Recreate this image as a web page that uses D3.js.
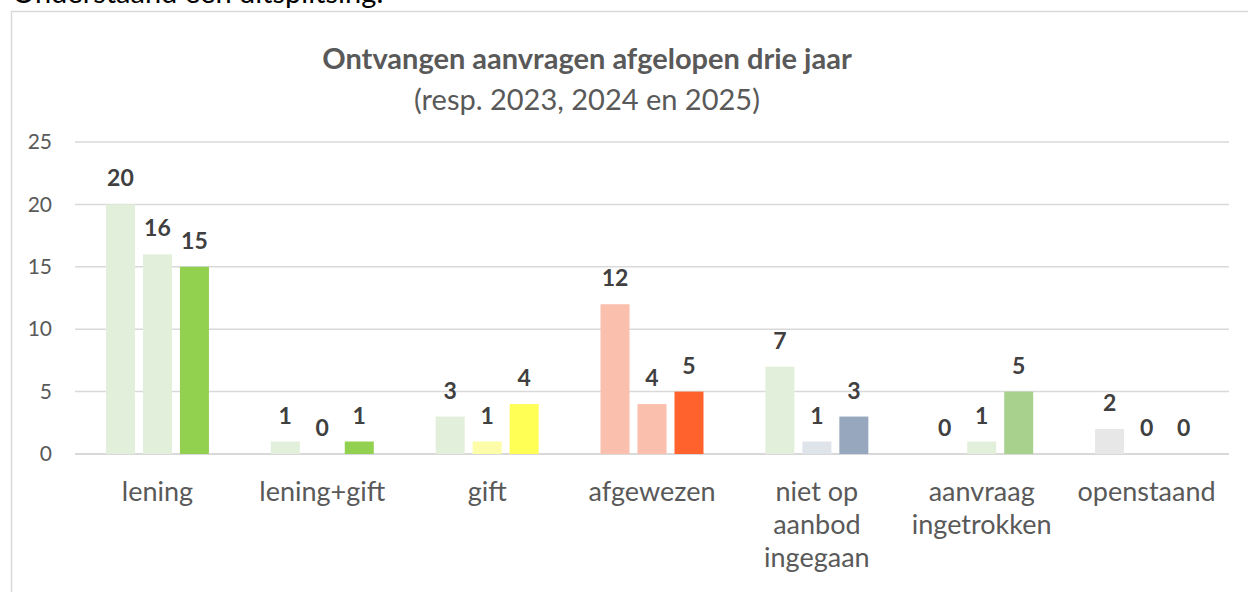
<!DOCTYPE html>
<html>
<head>
<meta charset="utf-8">
<script src="https://cdn.jsdelivr.net/npm/d3@7"></script>
<style>
  html, body { margin: 0; padding: 0; background: #fff; }
  svg { display: block; font-family: Lato, "Open Sans", sans-serif; }
</style>
</head>
<body>
<div id="chart"></div>
<script>
// data
const categories = ['lening', 'lening+gift', 'gift', 'afgewezen', 'niet op aanbod ingegaan', 'aanvraag ingetrokken', 'openstaand'];
const categoryLines = [['lening'], ['lening+gift'], ['gift'], ['afgewezen'], ['niet op', 'aanbod', 'ingegaan'], ['aanvraag', 'ingetrokken'], ['openstaand']];
const series = ['2023', '2024', '2025'];
const values2023 = [20, 1, 3, 12, 7, 0, 2];
const values2024 = [16, 0, 1, 4, 1, 1, 0];
const values2025 = [15, 1, 4, 5, 3, 5, 0];
const yTicks = [0, 5, 10, 15, 20, 25];

// each bar has its own fill in the original
const colors2023 = ['#e2efda', '#e2efda', '#e2efda', '#fbbfad', '#e2efda', '#e2efda', '#e7e7e7'];
const colors2024 = ['#e2efda', '#e2efda', '#fdfca8', '#fbbfad', '#dfe3ea', '#e2efda', '#e7e7e7'];
const colors2025 = ['#92d050', '#92d050', '#ffff55', '#ff622c', '#97a7be', '#a9d18e', '#e7e7e7'];

const W = 1248, H = 592;
const PLOT = { left: 75, right: 1229, top: 142, bottom: 454 };
const GRID = '#d9d9d9';
const TEXT = '#595959';

const valuesBySeries = [values2023, values2024, values2025];
const colorsBySeries = [colors2023, colors2024, colors2025];

const svg = d3.select('#chart').append('svg')
  .attr('width', W)
  .attr('height', H);

// text above the chart, cut off at the top edge
svg.append('text')
  .attr('x', 12)
  .attr('y', 3)
  .attr('fill', '#000')
  .style('font-size', '29px')
  .text('Onderstaand een uitsplitsing:');

// chart frame (only the left and top border are in view)
svg.append('path')
  .attr('d', `M11.5,${H} V11.5 H${W}`)
  .attr('fill', 'none')
  .attr('stroke', GRID)
  .attr('stroke-width', 1.5);

svg.append('text')
  .attr('x', 587)
  .attr('y', 69)
  .attr('text-anchor', 'middle')
  .attr('fill', TEXT)
  .style('font-size', '29px')
  .style('font-weight', 'bold')
  .text('Ontvangen aanvragen afgelopen drie jaar');

svg.append('text')
  .attr('x', 587)
  .attr('y', 110)
  .attr('text-anchor', 'middle')
  .attr('fill', TEXT)
  .style('font-size', '29px')
  .text('(resp. 2023, 2024 en 2025)');

const y = d3.scaleLinear().domain([0, 25]).range([PLOT.bottom, PLOT.top]);
const x0 = d3.scaleBand().domain(categories).range([PLOT.left, PLOT.right]);
const x1 = d3.scaleBand().domain(series).range([0, x0.bandwidth()])
  .paddingInner(0.216).paddingOuter(0.836);

// gridlines
svg.append('g')
  .selectAll('line')
  .data(yTicks)
  .enter().append('line')
  .attr('x1', PLOT.left)
  .attr('x2', PLOT.right)
  .attr('y1', d => y(d))
  .attr('y2', d => y(d))
  .attr('stroke', GRID)
  .attr('stroke-width', d => d === 0 ? 2 : 1.5);

// y axis labels
const yAxis = svg.append('g')
  .attr('transform', `translate(${PLOT.left},0)`)
  .call(d3.axisLeft(y).tickValues(yTicks).tickSize(0).tickPadding(23));
yAxis.select('.domain').remove();
yAxis.selectAll('text')
  .attr('fill', TEXT)
  .style('font-family', 'Lato, sans-serif')
  .style('font-size', '21px');

// bars + value labels
const bars = [];
categories.forEach((c, i) => {
  series.forEach((s, j) => {
    bars.push({ cat: c, ser: s, value: valuesBySeries[j][i], color: colorsBySeries[j][i] });
  });
});

const g = svg.append('g');
g.selectAll('rect')
  .data(bars.filter(d => d.value > 0))
  .enter().append('rect')
  .attr('x', d => x0(d.cat) + x1(d.ser))
  .attr('y', d => y(d.value))
  .attr('width', x1.bandwidth())
  .attr('height', d => y(0) - y(d.value))
  .attr('fill', d => d.color);

g.selectAll('.val')
  .data(bars)
  .enter().append('text')
  .attr('class', 'val')
  .attr('x', d => x0(d.cat) + x1(d.ser) + x1.bandwidth() / 2)
  .attr('y', d => y(d.value) - 18)
  .attr('text-anchor', 'middle')
  .attr('fill', '#404040')
  .style('font-size', '23px')
  .style('font-weight', 'bold')
  .text(d => d.value);

// category labels
const xl = svg.append('g');
categories.forEach((c, i) => {
  const t = xl.append('text')
    .attr('x', x0(c) + x0.bandwidth() / 2)
    .attr('y', 501)
    .attr('text-anchor', 'middle')
    .attr('fill', TEXT)
    .style('font-size', '27px');
  categoryLines[i].forEach((line, k) => {
    t.append('tspan')
      .attr('x', x0(c) + x0.bandwidth() / 2)
      .attr('dy', k === 0 ? 0 : 33)
      .text(line);
  });
});
</script>
</body>
</html>
